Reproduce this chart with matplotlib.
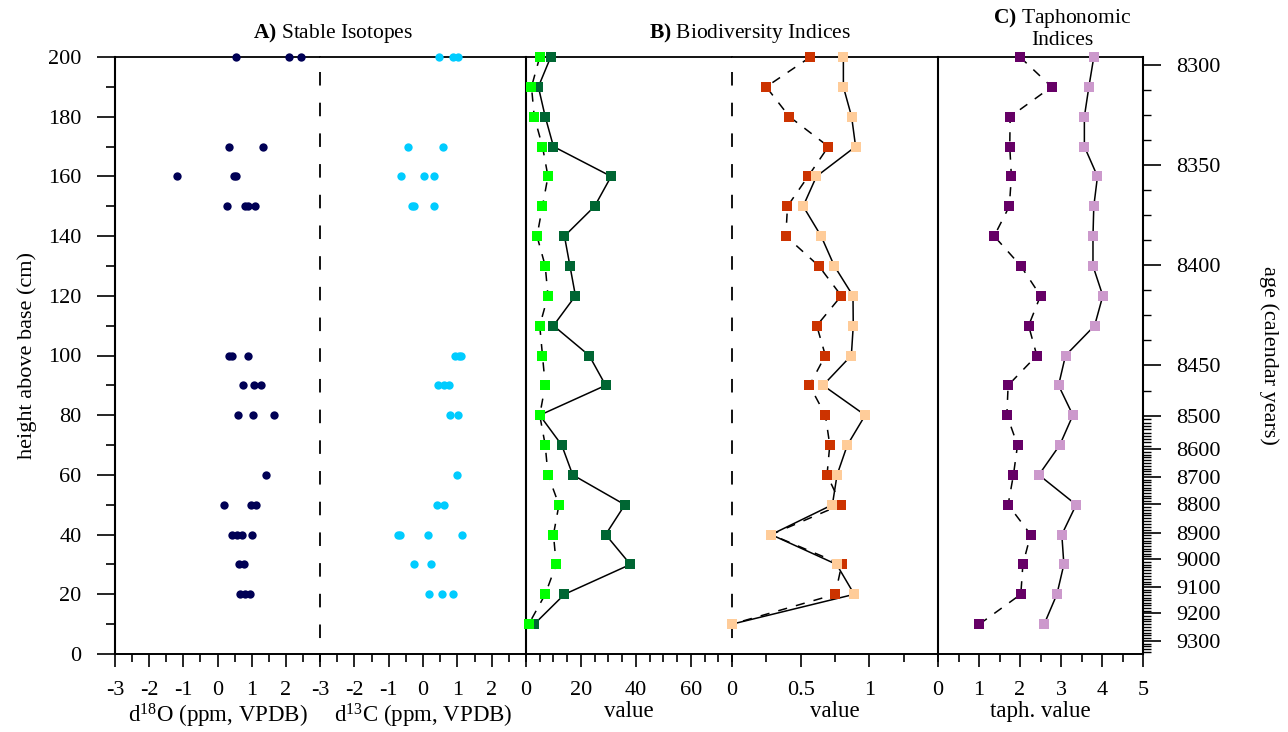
import matplotlib
matplotlib.use("Agg")
import matplotlib.pyplot as plt
import numpy as np
from matplotlib.ticker import MultipleLocator, FixedLocator, NullLocator

plt.rcParams['font.family'] = ['Liberation Serif', 'DejaVu Serif']
plt.rcParams['mathtext.fontset'] = 'custom'
plt.rcParams['mathtext.rm'] = 'Liberation Serif'
plt.rcParams['mathtext.it'] = 'Liberation Serif:italic'
plt.rcParams['mathtext.bf'] = 'Liberation Serif:bold'
plt.rcParams['axes.unicode_minus'] = False
plt.rcParams['font.size'] = 15.5
plt.rcParams['xtick.labelsize'] = 16
plt.rcParams['ytick.labelsize'] = 16

# ---- data ----
heights = [200, 190, 180, 170, 160, 150, 140, 130, 120, 110,
           100, 90, 80, 70, 60, 50, 40, 30, 20, 10]

# stable isotopes (replicate samples per level)
d18o_h = [200, 200, 200, 170, 170, 160, 160, 160, 150, 150, 150, 150,
          100, 100, 100, 90, 90, 90, 80, 80, 80, 60, 50, 50, 50,
          40, 40, 40, 40, 30, 30, 20, 20, 20]
d18o = [0.53, 2.09, 2.44, 0.33, 1.32, -1.18, 0.49, 0.54, 0.29, 0.80, 0.88, 1.10,
        0.33, 0.43, 0.88, 0.76, 1.06, 1.27, 0.60, 1.04, 1.66, 1.41, 0.20, 0.97, 1.12,
        0.43, 0.56, 0.71, 1.01, 0.64, 0.77, 0.66, 0.80, 0.95]

d13c_h = [200, 200, 200, 170, 170, 160, 160, 160, 150, 150, 150,
          100, 100, 100, 90, 90, 90, 80, 80, 60, 50, 50,
          40, 40, 40, 40, 30, 30, 20, 20, 20]
d13c = [0.46, 0.87, 1.02, -0.45, 0.57, -0.65, 0.04, 0.31, -0.32, -0.25, 0.33,
        0.93, 1.05, 1.12, 0.44, 0.60, 0.75, 0.80, 1.02, 0.98, 0.40, 0.61,
        -0.73, -0.66, 0.15, 1.13, -0.26, 0.22, 0.17, 0.54, 0.86]

# biodiversity indices
richness = [9, 4.5, 7, 10, 31, 25, 14, 16, 18, 10, 23, 29, 5, 13, 17, 36, 29, 38, 14, 3]
richness2 = [5, 2, 3, 6, 8, 6, 4, 7, 8, 5, 6, 7, 5, 7, 8, 12, 10, 11, 7, 1]
index_a = [0.571, 0.249, 0.418, 0.702, 0.554, 0.404, 0.392, 0.632, 0.796, 0.617,
           0.680, 0.564, 0.680, 0.712, 0.692, 0.794, 0.285, 0.799, 0.752, 0.0]
index_b = [0.811, 0.811, 0.871, 0.900, 0.615, 0.518, 0.649, 0.745, 0.881, 0.883,
           0.869, 0.663, 0.970, 0.840, 0.765, 0.731, 0.285, 0.762, 0.890, 0.0]

# taphonomic indices
taph_a = [2.0, 2.77, 1.76, 1.75, 1.79, 1.74, 1.37, 2.02, 2.50, 2.21,
          2.41, 1.71, 1.68, 1.94, 1.84, 1.71, 2.26, 2.07, 2.02, 1.01]
taph_b = [3.80, 3.68, 3.57, 3.57, 3.89, 3.80, 3.78, 3.78, 4.02, 3.82,
          3.11, 2.94, 3.29, 2.97, 2.46, 3.37, 3.02, 3.07, 2.90, 2.59]

# age model: height (cm) at labelled ages
age_labels = [8300, 8350, 8400, 8450, 8500, 8600, 8700, 8800, 8900, 9000, 9100, 9200, 9300]
age_heights = [197.3, 163.8, 130.3, 96.8, 79.7, 68.7, 59.3, 50.3, 40.6, 31.8, 22.4, 13.7, 4.4]
age_minor = ([8312.5, 8325, 8337.5, 8362.5, 8375, 8387.5, 8412.5, 8425, 8437.5, 8475]
             + list(range(8510, 9350, 10)))

# ---- layout ----
W, H = 1288, 732
fig = plt.figure(figsize=(W / 100, H / 100), dpi=100)
edges = [115, 320, 526, 732, 938, 1143]
y_bot, y_top = 654, 57
axes = []
for i in range(5):
    ax = fig.add_axes([edges[i] / W, (H - y_bot) / H,
                       (edges[i + 1] - edges[i]) / W, (y_bot - y_top) / H])
    ax.set_ylim(0, 200)
    for s in ['left', 'right']:
        ax.spines[s].set_visible(False)
    ax.spines['top'].set_linewidth(1.3)
    ax.spines['bottom'].set_linewidth(1.4)
    ax.yaxis.set_minor_locator(NullLocator())
    ax.tick_params(axis='x', which='major', direction='out', length=9.5, width=1.2, pad=10)
    ax.tick_params(axis='x', which='minor', direction='out', length=6, width=1.2)
    axes.append(ax)
a1, a2, b1, b2, c1 = axes

# right age axis (twinx resets the host's y ticks, so create it first)
rax = c1.twinx()
for ax in axes:
    ax.tick_params(axis='y', which='both', left=False, right=False,
                   labelleft=False, labelright=False)

# left axis
a1.spines['left'].set_visible(True)
a1.spines['left'].set_linewidth(1.5)
a1.yaxis.set_major_locator(MultipleLocator(20))
a1.yaxis.set_minor_locator(MultipleLocator(10))
a1.tick_params(axis='y', which='major', left=True, labelleft=True,
               length=13, width=1.2, pad=11)
a1.tick_params(axis='y', which='minor', left=True, length=6.5, width=1.2)
a1.set_ylabel('height above base (cm)', fontsize=16, labelpad=8)

# panel dividers
b1.spines['left'].set_visible(True)
b1.spines['left'].set_linewidth(1.5)
c1.spines['left'].set_visible(True)
c1.spines['left'].set_linewidth(1.5)
a2.plot([-3, -3], [195, 0], color='black', lw=1.3, dashes=(7.5, 9.5), clip_on=False)
b2.plot([0, 0], [195, 0], color='black', lw=1.3, dashes=(7.5, 9.5), clip_on=False)

# x axes
xl = dict(fontsize=16.5, labelpad=1)
a1.set_xlim(-3, 3)
a1.xaxis.set_major_locator(FixedLocator([-3, -2, -1, 0, 1, 2]))
a1.xaxis.set_minor_locator(MultipleLocator(0.5))
a1.set_xlabel('d$^{18}$O (ppm, VPDB)', **xl)
a2.set_xlim(-3, 3)
a2.xaxis.set_major_locator(FixedLocator([-3, -2, -1, 0, 1, 2]))
a2.xaxis.set_minor_locator(MultipleLocator(0.5))
a2.set_xlabel('d$^{13}$C (ppm, VPDB)', **xl)
b1.set_xlim(0, 75)
b1.xaxis.set_major_locator(FixedLocator([0, 20, 40, 60]))
b1.xaxis.set_minor_locator(MultipleLocator(5))
b1.set_xlabel('value', **xl)
b2.set_xlim(0, 1.5)
b2.xaxis.set_major_locator(FixedLocator([0, 0.5, 1]))
b2.xaxis.set_minor_locator(MultipleLocator(0.25))
b2.set_xticklabels(['0', '0.5', '1'])
b2.set_xlabel('value', **xl)
c1.set_xlim(0, 5)
c1.xaxis.set_major_locator(MultipleLocator(1))
c1.xaxis.set_minor_locator(MultipleLocator(0.5))
c1.set_xlabel('taph. value', **xl)

# ---- data marks ----
dot = dict(marker='o', linestyle='none', markersize=6, markeredgewidth=0, clip_on=False, zorder=5)
a1.plot(d18o, d18o_h, color='#000055', **dot)
a2.plot(d13c, d13c_h, color='#00ccff', **dot)

sq = dict(marker='s', markersize=6.6, markeredgewidth=0, clip_on=False)
dash = (6, 6)
b1.plot(richness, heights, color='black', lw=1.1, zorder=2, clip_on=False)
b1.plot(richness, heights, color='#006633', linestyle='none', zorder=4, **sq)
b1.plot(richness2, heights, color='black', lw=1.1, dashes=dash, zorder=2, clip_on=False)
b1.plot(richness2, heights, color='#00ff00', linestyle='none', zorder=5, **sq)

b2.plot(index_a, heights, color='black', lw=1.1, dashes=dash, zorder=2, clip_on=False)
b2.plot(index_a, heights, color='#cc3300', linestyle='none', zorder=4, **sq)
b2.plot(index_b, heights, color='black', lw=1.1, zorder=2, clip_on=False)
b2.plot(index_b, heights, color='#ffcc99', linestyle='none', zorder=5, **sq)

c1.plot(taph_a, heights, color='black', lw=1.1, dashes=dash, zorder=2, clip_on=False)
c1.plot(taph_a, heights, color='#660066', linestyle='none', zorder=4, **sq)
c1.plot(taph_b, heights, color='black', lw=1.1, zorder=2, clip_on=False)
c1.plot(taph_b, heights, color='#cc99cc', linestyle='none', zorder=5, **sq)

# ---- right age axis ----
rax.set_ylim(0, 200)
for s in ['left', 'top', 'bottom']:
    rax.spines[s].set_visible(False)
rax.spines['right'].set_visible(True)
rax.spines['right'].set_linewidth(1.5)
model_h = age_heights + [0.0]
model_age = age_labels + [9348]
minor_h = np.interp(age_minor, model_age, model_h)
rax.yaxis.set_major_locator(FixedLocator(age_heights))
rax.set_yticklabels([str(a) for a in age_labels])
rax.yaxis.set_minor_locator(FixedLocator(minor_h))
rax.tick_params(axis='y', which='both', left=False, labelleft=False,
                right=True, labelright=True)
rax.tick_params(axis='y', which='major', length=13, width=1.2, pad=11)
rax.tick_params(axis='y', which='minor', length=6, width=1.0)
rax.set_ylabel('age (calendar years)', fontsize=16, rotation=270, labelpad=42)

# ---- titles ----
fig.text(333 / W, (H - 33) / H, r'$\mathbf{A)}$ Stable Isotopes', ha='center', va='center')
fig.text(750 / W, (H - 33) / H, r'$\mathbf{B)}$ Biodiversity Indices', ha='center', va='center')
fig.text(1062 / W, (H - 28) / H, '$\\mathbf{C)}$ Taphonomic\nIndices', ha='center', va='center',
         linespacing=1.1)

fig.savefig('out.png', dpi=100)
